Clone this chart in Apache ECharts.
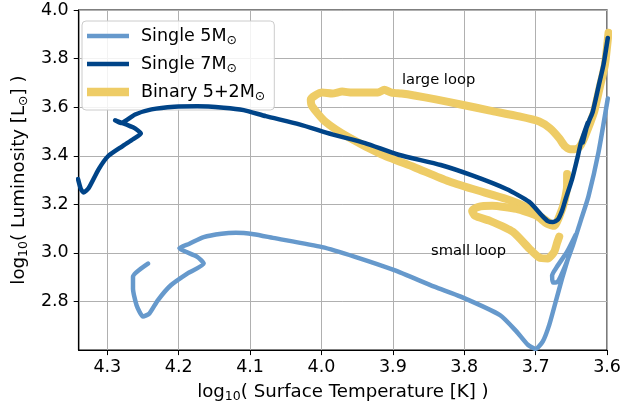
<!DOCTYPE html>
<html>
<head>
<meta charset="utf-8">
<script src="https://cdn.jsdelivr.net/npm/echarts@6/dist/echarts.min.js"></script>
<style>
  html, body { margin: 0; padding: 0; background: #ffffff; }
  #chart { width: 624px; height: 408px; }
</style>
</head>
<body>
<div id="chart"></div>
<script>
// Evolutionary tracks in the HR diagram: log10(Teff) vs log10(L/Lsun)

const seriesNames = ['Single 5M⊙', 'Single 7M⊙', 'Binary 5+2M⊙'];
const seriesColors = ['#6699CC', '#004488', '#EECC66'];

// Single 5 Msun track
const single5T = [4.243, 4.264, 4.264, 4.259, 4.250, 4.241, 4.229, 4.211, 4.188, 4.165,
  4.174, 4.199, 4.185, 4.165, 4.140, 4.120, 4.095, 4.068, 3.999, 3.953,
  3.898, 3.842, 3.805, 3.750, 3.727, 3.711, 3.700, 3.690, 3.681, 3.672,
  3.663, 3.656, 3.648, 3.644, 3.656, 3.670, 3.677, 3.676, 3.669, 3.659,
  3.648, 3.637, 3.626, 3.612, 3.599];
const single5L = [2.956, 2.902, 2.854, 2.785, 2.738, 2.751, 2.806, 2.867, 2.915, 2.956,
  2.984, 3.020, 3.038, 3.065, 3.079, 3.083, 3.077, 3.062, 3.024, 2.984,
  2.929, 2.861, 2.820, 2.744, 2.677, 2.622, 2.605, 2.636, 2.704, 2.799,
  2.895, 2.964, 3.038, 3.075, 3.005, 2.944, 2.907, 2.878, 2.882, 2.944,
  3.030, 3.132, 3.234, 3.415, 3.636];

// Single 7 Msun track (the back-and-forth near log L = 3.5 is the blue loop)
const single7T = [4.341, 4.337, 4.333, 4.326, 4.312, 4.299, 4.279, 4.264, 4.253, 4.264,
  4.289, 4.281, 4.261, 4.238, 4.206, 4.174, 4.137, 4.109, 4.078, 4.031,
  3.985, 3.939, 3.892, 3.833, 3.788, 3.741, 3.709, 3.691, 3.683, 3.676,
  3.669, 3.663, 3.658, 3.649, 3.642, 3.636, 3.627, 3.634, 3.628, 3.637,
  3.625, 3.620, 3.612, 3.605, 3.599];
const single7L = [3.304, 3.263, 3.249, 3.267, 3.345, 3.398, 3.439, 3.468, 3.492, 3.517,
  3.546, 3.535, 3.570, 3.591, 3.602, 3.604, 3.598, 3.588, 3.563, 3.529,
  3.488, 3.452, 3.404, 3.362, 3.318, 3.263, 3.210, 3.153, 3.131, 3.127,
  3.137, 3.174, 3.222, 3.304, 3.386, 3.460, 3.537, 3.455, 3.525, 3.450,
  3.545, 3.582, 3.685, 3.775, 3.885];

// Binary 5+2 Msun: giant branch and large blue loop
const binaryLargeT = [3.598, 3.603, 3.610, 3.618, 3.624, 3.634, 3.639, 3.645, 3.652, 3.659,
  3.667, 3.680, 3.695, 3.723, 3.764, 3.805, 3.840, 3.870, 3.888, 3.902,
  3.912, 3.921, 3.939, 3.957, 3.971, 3.985, 3.999, 4.009, 4.015, 4.013,
  3.995, 3.962, 3.916, 3.870, 3.823, 3.788, 3.741, 3.713, 3.695, 3.681];
const binaryLargeL = [3.906, 3.775, 3.685, 3.582, 3.533, 3.460, 3.435, 3.427, 3.427, 3.439,
  3.472, 3.513, 3.541, 3.562, 3.586, 3.611, 3.632, 3.648, 3.656, 3.660,
  3.672, 3.660, 3.660, 3.660, 3.664, 3.656, 3.660, 3.648, 3.632, 3.603,
  3.541, 3.476, 3.406, 3.353, 3.296, 3.263, 3.222, 3.189, 3.153, 3.124];

// Binary 5+2 Msun: small loop near the base of the giant branch
const binarySmallT = [3.667, 3.670, 3.674, 3.683, 3.695, 3.709, 3.732, 3.764, 3.785, 3.789,
  3.781, 3.761, 3.727, 3.699, 3.684, 3.674, 3.666, 3.660, 3.656, 3.656];
const binarySmallL = [3.067, 3.042, 3.005, 2.977, 2.981, 3.018, 3.087, 3.132, 3.153, 3.173,
  3.189, 3.194, 3.181, 3.153, 3.120, 3.112, 3.157, 3.210, 3.279, 3.325];

// Text annotations placed in data coordinates
const noteText = ['large loop', 'small loop'];
const noteT = [3.836, 3.794];
const noteL = [3.710, 3.006];

// Axis settings
const xTicks = { min: 3.6, max: 4.34, step: 0.1 };
const yTicks = { min: 2.6, max: 4.0, step: 0.2 };

const FONT = 'DejaVu Sans';
const zip = (a, b) => a.map((v, i) => [v, b[i]]);

const subRich = {
  s: { fontFamily: FONT, fontSize: 12.5, lineHeight: 12, verticalAlign: 'bottom', color: '#000' }
};

function track(name, color, width, xs, ys, z) {
  return {
    name: name,
    type: 'line',
    data: zip(xs, ys),
    symbol: 'none',
    smooth: 0.2,
    z: z,
    color: color,
    lineStyle: { color: color, width: width, cap: 'round', join: 'round' },
    itemStyle: { color: color },
    emphasis: { disabled: true },
    silent: true
  };
}

// legend swatches: flat bars as thick as each track's line
const swatch = h => 'path://M0,0H42V' + h + 'H0Z';

const chart = echarts.init(document.getElementById('chart'), null, { renderer: 'canvas' });

chart.setOption({
  animation: false,
  backgroundColor: '#ffffff',
  grid: {
    left: 73, right: 15, top: 10, bottom: 56,
    show: true, borderColor: '#000000', borderWidth: 1.2, backgroundColor: 'transparent'
  },
  legend: {
    orient: 'vertical',
    left: 82, top: 21,
    data: [
      { name: seriesNames[0], icon: swatch(4.5) },
      { name: seriesNames[1], icon: swatch(4.5) },
      { name: seriesNames[2], icon: swatch(8.5) }
    ],
    symbolKeepAspect: true,
    itemWidth: 42, itemHeight: 20, itemGap: 6,
    padding: [4, 9, 7, 5],
    backgroundColor: 'rgba(255,255,255,0.85)',
    borderColor: '#cccccc', borderWidth: 1, borderRadius: 4,
    selectedMode: false,
    formatter: n => n.replace('⊙', '{s|⊙}'),
    textStyle: {
      fontFamily: FONT, fontSize: 17.5, lineHeight: 22, color: '#000000',
      padding: [0, 0, 0, 7], rich: subRich
    }
  },
  xAxis: {
    type: 'value',
    inverse: true,
    min: xTicks.min, max: xTicks.max, interval: xTicks.step,
    name: 'log{s|10}( Surface Temperature [K] )',
    nameLocation: 'middle', nameGap: 29,
    nameTextStyle: { fontFamily: FONT, fontSize: 18.2, lineHeight: 22, color: '#000000', rich: subRich },
    axisLine: { show: true, onZero: false, lineStyle: { color: '#000000', width: 1.2 } },
    axisTick: { show: true, length: 5, lineStyle: { color: '#000000', width: 1 } },
    axisLabel: {
      fontFamily: FONT, fontSize: 17.5, color: '#000000', margin: 8,
      showMaxLabel: false,
      formatter: v => v.toFixed(1)
    },
    splitLine: { show: true, lineStyle: { color: '#b0b0b0', width: 1 } }
  },
  yAxis: {
    type: 'value',
    min: yTicks.min, max: yTicks.max, interval: yTicks.step,
    name: 'log{s|10}( Luminosity [L{s|⊙}] )',
    nameLocation: 'middle', nameGap: 46,
    nameTextStyle: { fontFamily: FONT, fontSize: 18.2, lineHeight: 22, color: '#000000', rich: subRich },
    axisLine: { show: true, onZero: false, lineStyle: { color: '#000000', width: 1.2 } },
    axisTick: { show: true, length: 5, lineStyle: { color: '#000000', width: 1 } },
    axisLabel: {
      fontFamily: FONT, fontSize: 17.5, color: '#000000', margin: 10,
      showMinLabel: false,
      formatter: v => v.toFixed(1)
    },
    splitLine: { show: true, lineStyle: { color: '#b0b0b0', width: 1 } }
  },
  series: [
    track(seriesNames[0], seriesColors[0], 4.5, single5T, single5L, 4),
    track(seriesNames[1], seriesColors[1], 4.5, single7T, single7L, 5),
    track(seriesNames[2], seriesColors[2], 8, binaryLargeT, binaryLargeL, 2),
    track(seriesNames[2], seriesColors[2], 8, binarySmallT, binarySmallL, 2),
    {
      name: 'notes',
      type: 'scatter',
      data: zip(noteT, noteL).map((p, i) => ({ value: p, name: noteText[i] })),
      symbolSize: 1,
      itemStyle: { color: 'rgba(0,0,0,0)' },
      silent: true,
      z: 6,
      label: {
        show: true, position: 'inside', opacity: 1,
        formatter: p => p.name,
        fontFamily: FONT, fontSize: 14.7, color: '#000000'
      }
    }
  ]
});
</script>
</body>
</html>
